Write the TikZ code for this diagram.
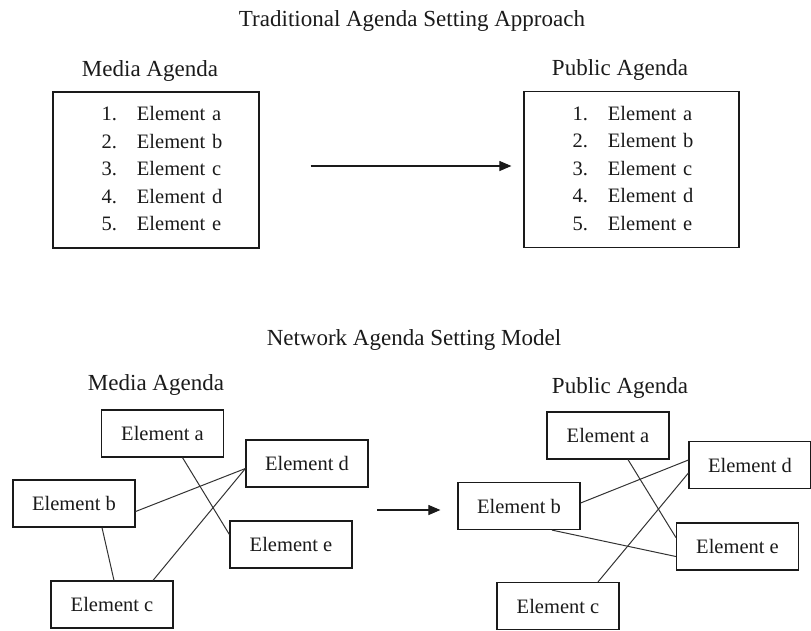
\documentclass[tikz,border=0pt]{standalone}
\usepackage{fontspec}
\setmainfont{Liberation Serif}
\usepackage{tikz}
\usetikzlibrary{arrows.meta,positioning}
\definecolor{Ink}{HTML}{1A1A1A}
\definecolor{Wire}{HTML}{333333}

\begin{document}
\begin{tikzpicture}[x=1pt, y=-1pt,
    heading/.style={inner sep=0pt, font=\fontsize{23}{27}\selectfont, text=Ink},
    listbox/.style={draw=Ink, line width=1.2pt, inner sep=0pt, align=left, minimum height=156pt, font=\fontsize{20.5}{27.5}\selectfont, text=Ink},
    elem/.style={draw=Ink, line width=1.2pt, inner sep=0pt, minimum width=122pt, minimum height=47pt, font=\fontsize{20.5}{24}\selectfont, text=Ink},
    link/.style={Wire, line width=1pt},
    flow/.style={-{Triangle[length=12pt,width=10pt]}, Ink, line width=1.1pt}]
      \useasboundingbox (0,0) rectangle (811,630);

      % traditional approach
      \node[heading] (toptitle) at (412,21) {Traditional Agenda Setting Approach};

      \node[listbox, text width=206pt] (tml) at (156,170) {\begin{tabular}{@{\hspace{48.6pt}}r@{\hspace{20pt}}l}
        1. & Element a\\ 2. & Element b\\ 3. & Element c\\ 4. & Element d\\ 5. & Element e
      \end{tabular}};
      \node[listbox, text width=215pt] (tpl) at (631.5,169.5) {\begin{tabular}{@{\hspace{48.6pt}}r@{\hspace{20pt}}l}
        1. & Element a\\ 2. & Element b\\ 3. & Element c\\ 4. & Element d\\ 5. & Element e
      \end{tabular}};
      \node[heading, above=10pt of tml, xshift=-6pt] (tmlab) {Media Agenda};
      \node[heading, above=10pt of tpl, xshift=-11.5pt] (tplab) {Public Agenda};

      \draw[flow] ([xshift=51pt, yshift=4pt]tml.east) -- ([xshift=-12pt, yshift=3.5pt]tpl.west);

      % network model
      \node[heading] (bottitle) at (414,340) {Network Agenda Setting Model};

      \node[elem] (ma) at (162.5,433.5) {Element a};
      \node[elem] (md) at (307,463.5) {Element d};
      \node[elem] (mb) at (74,503.5) {Element b};
      \node[elem] (me) at (291,544.5) {Element e};
      \node[elem] (mc) at (112,604.5) {Element c};
      \node[heading, above=14pt of ma, xshift=-6.5pt] (mlab) {Media Agenda};

      \node[elem] (pa) at (608,435.5) {Element a};
      \node[elem] (pd) at (750,465) {Element d};
      \node[elem] (pb) at (519,506) {Element b};
      \node[elem] (pe) at (737.5,546.5) {Element e};
      \node[elem] (pc) at (558,606) {Element c};
      \node[heading, above=13pt of pa, xshift=12pt] (plab) {Public Agenda};

      \draw[link] ([xshift=20pt]ma.south) -- ([yshift=10pt]me.west);
      \draw[link] ([yshift=-8pt]mb.east) -- ([yshift=-5pt]md.west);
      \draw[link] ([xshift=41pt]mc.north) -- ([yshift=-5pt]md.west);
      \draw[link] ([xshift=28pt]mb.south) -- ([xshift=2pt]mc.north);

      \draw[link] ([xshift=20pt]pa.south) -- ([yshift=9pt]pe.west);
      \draw[link] ([yshift=3pt]pb.east) -- ([yshift=5pt]pd.west);
      \draw[link] ([xshift=40pt]pc.north) -- ([yshift=-8pt]pd.west);
      \draw[link] ([xshift=33pt]pb.south) -- ([yshift=-10pt]pe.west);

      \draw[flow] ([xshift=-80pt, yshift=-4pt]pb.west) -- ([xshift=-17pt, yshift=-4pt]pb.west);
    \end{tikzpicture}
\end{document}
